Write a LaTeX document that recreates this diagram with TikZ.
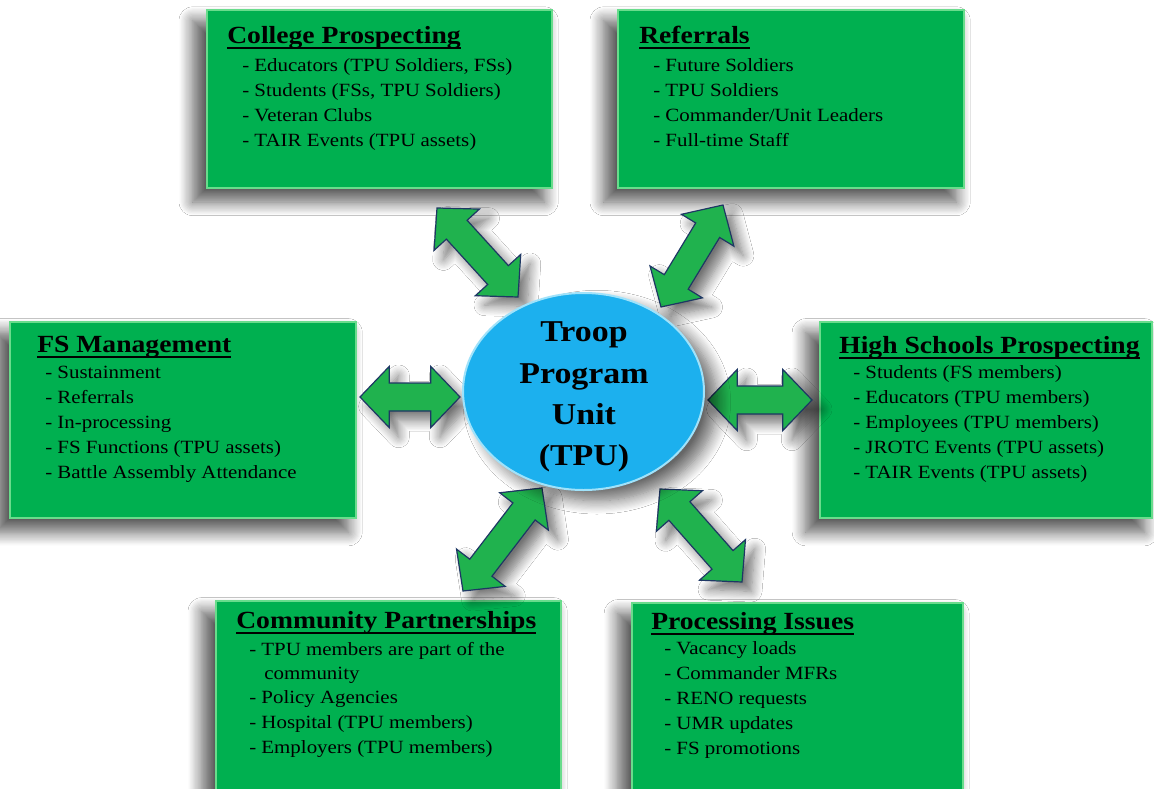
\documentclass[tikz,border=0pt]{standalone}
\usepackage{fontspec}
\setmainfont{Liberation Serif}[FakeStretch=1.12]
\usetikzlibrary{calc,fit,shapes.geometric,shadows.blur}
\definecolor{boxgreen}{RGB}{0,176,80}
\definecolor{boxedge}{RGB}{105,220,140}
\definecolor{arrgreen}{RGB}{32,178,78}
\definecolor{arredge}{RGB}{30,55,100}
\definecolor{tpublue}{RGB}{28,176,238}
\definecolor{tpurim}{RGB}{160,226,250}
\newcommand\ttlul[1]{\setbox0\hbox{#1}\rlap{\rule[-4.75pt]{\wd0}{1.5pt}}\box0}
\newcommand\blockarrow[2]{%
 \draw[arr] let \p1=($(#2)-(#1)$), \n1={atan2(\y1,\x1)}, \n2={veclen(\x1,\y1)} in
 (#1) -- ($(#1)+(\n1:22pt)+(\n1+90:23pt)$) -- ($(#1)+(\n1:22pt)+(\n1+90:10.5pt)$)
 -- ($(#1)+(\n1:{\n2-22pt})+(\n1+90:10.5pt)$) -- ($(#1)+(\n1:{\n2-22pt})+(\n1+90:23pt)$)
 -- (#2) -- ($(#1)+(\n1:{\n2-22pt})+(\n1-90:23pt)$) -- ($(#1)+(\n1:{\n2-22pt})+(\n1-90:10.5pt)$)
 -- ($(#1)+(\n1:22pt)+(\n1-90:10.5pt)$) -- ($(#1)+(\n1:22pt)+(\n1-90:23pt)$) -- cycle;}
\begin{document}
\begin{tikzpicture}[x=0.75pt,y=-0.75pt,
  box/.style={draw=boxedge, line width=1.6pt, fill=boxgreen, inner sep=0pt,
    blur shadow={shadow xshift=-8pt, shadow yshift=-9pt, shadow scale=1.02, shadow opacity=65, shadow blur radius=10pt, shadow blur steps=12}},
  ttl/.style={font=\fontsize{18.5}{22}\selectfont\bfseries, anchor=base west, inner sep=0pt},
  itm/.style={font=\fontsize{14}{17}\selectfont, anchor=base west, inner sep=0pt},
  arr/.style={draw=arredge, line width=0.9pt, fill=arrgreen, line join=miter,
    blur shadow={shadow xshift=7pt, shadow yshift=-7pt, shadow opacity=55, shadow blur radius=8pt, shadow blur steps=10}},
  tpu/.style={ellipse, fill=tpublue, draw=tpurim, line width=1.5pt, inner sep=0pt,
    minimum width=180.75pt, minimum height=147.75pt,
    blur shadow={shadow xshift=10pt, shadow yshift=-8pt, shadow opacity=60, shadow blur radius=10pt, shadow blur steps=12}},
  tputxt/.style={font=\fontsize{22.7}{31}\selectfont\bfseries, align=center, inner sep=0pt}]
\fill[white] (0,0) rectangle (1154,789);
\useasboundingbox (0,0) rectangle (1154,789);

% boxes
\node[box, fit={(207,10)(552,188)}] (cp) {};
\node[box, fit={(618,10)(964,188)}] (ref) {};
\node[box, fit={(10,322)(356,518)}] (fsm) {};
\node[box, fit={(820,322)(1152,518)}] (hs) {};
\node[box, fit={(216,601)(561,800)}] (com) {};
\node[box, fit={(632,603)(963,800)}] (proc) {};

% College Prospecting
\node[ttl] (cpT) at (227,43) {\ttlul{College Prospecting}};
\foreach \t [count=\i] in {{- Educators (TPU Soldiers, FSs)},{- Students (FSs, TPU Soldiers)},{- Veteran Clubs},{- TAIR Events (TPU assets)}}
  \node[itm] (cp\i) at (242,{71+25*(\i-1)}) {\t};

% Referrals
\node[ttl] (refT) at (639,43) {\ttlul{Referrals}};
\foreach \t [count=\i] in {{- Future Soldiers},{- TPU Soldiers},{- Commander/Unit Leaders},{- Full-time Staff}}
  \node[itm] (ref\i) at (653,{71+25*(\i-1)}) {\t};

% FS Management
\node[ttl] (fsmT) at (37,352) {\ttlul{FS Management}};
\foreach \t [count=\i] in {{- Sustainment},{- Referrals},{- In-processing},{- FS Functions (TPU assets)},{- Battle Assembly Attendance}}
  \node[itm] (fsm\i) at (45,{378+25*(\i-1)}) {\t};

% High Schools Prospecting
\node[ttl] (hsT) at (839,353) {\ttlul{High Schools Prospecting}};
\foreach \t [count=\i] in {{- Students (FS members)},{- Educators (TPU members)},{- Employees (TPU members)},{- JROTC Events (TPU assets)},{- TAIR Events (TPU assets)}}
  \node[itm] (hs\i) at (853,{378+25*(\i-1)}) {\t};

% Community Partnerships
\node[ttl] (comT) at (236,628) {\ttlul{Community Partnerships}};
\node[itm] (com1) at (249,655) {- TPU members are part of the};
\node[itm] (com1b) at (264,679) {community};
\node[itm] (com2) at (249,703) {- Policy Agencies};
\node[itm] (com3) at (249,728) {- Hospital (TPU members)};
\node[itm] (com4) at (249,753) {- Employers (TPU members)};

% Processing Issues
\node[ttl] (procT) at (651,629) {\ttlul{Processing Issues}};
\foreach \t [count=\i] in {{- Vacancy loads},{- Commander MFRs},{- RENO requests},{- UMR updates},{- FS promotions}}
  \node[itm] (proc\i) at (664,{654+25*(\i-1)}) {\t};

% arrow tips
\coordinate (tlA) at (437,208); \coordinate (tlB) at (518,297);
\coordinate (trA) at (661,307); \coordinate (trB) at (723,205);
\coordinate (lA) at (360,397);  \coordinate (lB) at (460,397);
\coordinate (rA) at (708,400);  \coordinate (rB) at (812,400);
\coordinate (blA) at (463,591); \coordinate (blB) at (542,488);
\coordinate (brA) at (660,489); \coordinate (brB) at (742,582);

\blockarrow{tlA}{tlB}
\blockarrow{trA}{trB}
\blockarrow{lA}{lB}
\blockarrow{rA}{rB}
\blockarrow{blA}{blB}
\blockarrow{brA}{brB}

% centre
\node[tpu] (tpu) at (583.5,391.5) {};
\node[tputxt] (tpuT) at (584,397) {Troop\\Program\\Unit\\(TPU)};
\end{tikzpicture}
\end{document}
